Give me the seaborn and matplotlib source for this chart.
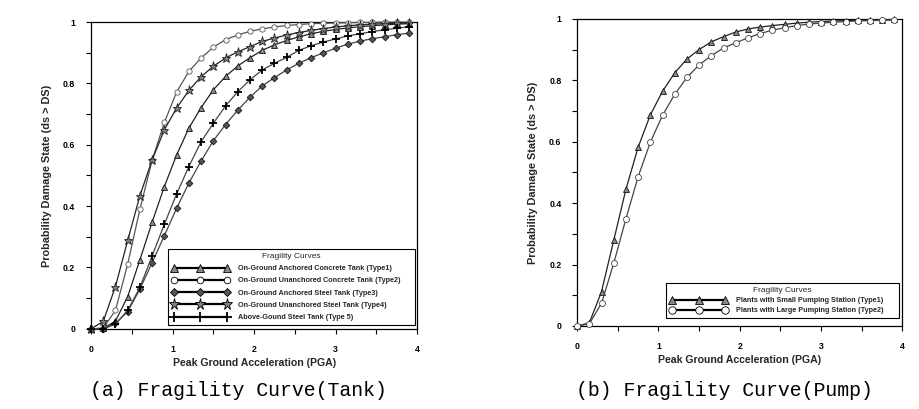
import matplotlib
matplotlib.use("Agg")
import matplotlib.pyplot as plt
import matplotlib.ticker as mticker
import seaborn as sns

# ---------------- data ----------------
pga = [0.0, 0.15, 0.3, 0.45, 0.6, 0.75, 0.9, 1.05, 1.2, 1.35, 1.5, 1.65, 1.8,
       1.95, 2.1, 2.25, 2.4, 2.55, 2.7, 2.85, 3.0, 3.15, 3.3, 3.45, 3.6, 3.75, 3.9]

tank1 = [0, 0.002, 0.025, 0.105, 0.225, 0.348, 0.464, 0.567, 0.654, 0.721, 0.779, 0.823, 0.857,
         0.884, 0.908, 0.926, 0.94, 0.952, 0.962, 0.97, 0.976, 0.981, 0.985, 0.988, 0.991, 0.993, 0.995]
tank2 = [0, 0.002, 0.06, 0.211, 0.39, 0.55, 0.673, 0.772, 0.839, 0.883, 0.918, 0.943, 0.958,
         0.97, 0.978, 0.984, 0.989, 0.992, 0.995, 0.996, 0.997, 0.998, 0.999, 0.999, 1.0, 1.0, 1.0]
tank3 = [0, 0.0, 0.018, 0.056, 0.13, 0.216, 0.304, 0.393, 0.475, 0.547, 0.613, 0.666, 0.713,
         0.755, 0.792, 0.819, 0.844, 0.866, 0.884, 0.9, 0.915, 0.928, 0.938, 0.946, 0.952, 0.959, 0.964]
tank4 = [0, 0.024, 0.138, 0.288, 0.434, 0.551, 0.649, 0.72, 0.777, 0.822, 0.856, 0.883, 0.903,
         0.92, 0.937, 0.948, 0.958, 0.966, 0.973, 0.979, 0.984, 0.988, 0.991, 0.993, 0.995, 0.996, 0.997]
tank5 = [0, 0.0, 0.015, 0.06, 0.135, 0.238, 0.341, 0.44, 0.529, 0.61, 0.67, 0.727, 0.773,
         0.812, 0.844, 0.866, 0.885, 0.908, 0.923, 0.935, 0.945, 0.955, 0.962, 0.969, 0.975, 0.98, 0.985]

pump1 = [0, 0.01, 0.112, 0.279, 0.445, 0.582, 0.687, 0.764, 0.824, 0.869, 0.9, 0.925, 0.942,
         0.957, 0.967, 0.973, 0.978, 0.982, 0.986, 0.989, 0.991, 0.993, 0.994, 0.995, 0.996, 0.997, 0.998]
pump2 = [0, 0.007, 0.074, 0.204, 0.349, 0.486, 0.598, 0.686, 0.754, 0.809, 0.85, 0.88, 0.905,
         0.922, 0.938, 0.952, 0.963, 0.971, 0.978, 0.983, 0.986, 0.989, 0.991, 0.993, 0.994, 0.995, 0.996]

tank_labels = ["On-Ground Anchored Concrete Tank (Type1)",
               "On-Ground Unanchored Concrete Tank (Type2)",
               "On-Ground Anchored Steel Tank (Type3)",
               "On-Ground Unanchored Steel Tank (Type4)",
               "Above-Gound Steel Tank (Type 5)"]
pump_labels = ["Plants with Small Pumping Station (Type1)",
               "Plants with Large Pumping Station (Type2)"]

legend_title = "Fragility Curves"
xlabel = "Peak Ground Acceleration (PGA)"
ylabel = "Probability Damage State (ds > DS)"
captions = ["(a) Fragility Curve(Tank)", "(b) Fragility Curve(Pump)"]

# ---------------- style ----------------
sns.set_style("ticks")
plt.rcParams["font.family"] = ["Liberation Sans", "DejaVu Sans"]
plt.rcParams["axes.linewidth"] = 0.9

fig = plt.figure(figsize=(9.19, 4.09), dpi=100)
axL = fig.add_axes([0.099, 0.196, 0.355, 0.75])
axR = fig.add_axes([0.628, 0.203, 0.354, 0.751])

tank_styles = [
    dict(marker="^", ms=4.2, mfc="#8a8a8a", mec="#111111", color="#222222"),
    dict(marker="o", ms=3.8, mfc="white", mec="#555555", color="#555555"),
    dict(marker="D", ms=3.4, mfc="#555555", mec="#111111", color="#444444"),
    dict(marker="*", ms=6.5, mfc="#808080", mec="#222222", color="#222222"),
    dict(marker="+", ms=6.0, mfc="black", mec="black", color="#444444"),
]
pump_styles = [
    dict(marker="^", ms=4.6, mfc="#8a8a8a", mec="#111111", color="#222222"),
    dict(marker="o", ms=4.3, mfc="white", mec="#444444", color="#444444"),
]

def draw(ax, series, labels, styles):
    for ys, lab, st in zip(series, labels, styles):
        mew = 1.3 if st["marker"] == "+" else 0.6
        sns.lineplot(x=pga, y=ys, ax=ax, label=lab, color=st["color"], lw=0.9,
                     marker=st["marker"], markersize=st["ms"],
                     markerfacecolor=st["mfc"], markeredgecolor=st["mec"],
                     markeredgewidth=mew, clip_on=False, zorder=3)

draw(axL, [tank1, tank2, tank3, tank4, tank5], tank_labels, tank_styles)
draw(axR, [pump1, pump2], pump_labels, pump_styles)

for ax in (axL, axR):
    ax.set_xlim(0, 4)
    ax.set_ylim(0, 1)
    ax.xaxis.set_major_locator(mticker.MultipleLocator(1))
    ax.xaxis.set_minor_locator(mticker.MultipleLocator(0.5))
    ax.yaxis.set_major_locator(mticker.MultipleLocator(0.2))
    ax.yaxis.set_minor_locator(mticker.MultipleLocator(0.1))
    fmt = mticker.FuncFormatter(lambda v, p: f"{v:g}")
    ax.xaxis.set_major_formatter(fmt)
    ax.yaxis.set_major_formatter(fmt)
    ax.tick_params(which="both", direction="out", length=3.8, width=0.8,
                   colors="black", labelsize=6.3, pad=7.5)
    for lbl in ax.get_xticklabels() + ax.get_yticklabels():
        lbl.set_fontweight("bold")
    for s in ax.spines.values():
        s.set_visible(True)
        s.set_color("black")
        s.set_linewidth(0.9)
    ax.set_xlabel(xlabel, fontsize=7.6, fontweight="bold")
    ax.set_ylabel(ylabel, fontsize=7.8, fontweight="bold")
    ax.xaxis.set_label_coords(0.5, -0.095)
    ax.yaxis.set_label_coords(-0.12, 0.5)

def make_legend(ax, bbox, styles, hl, ls):
    leg = ax.legend(title=legend_title, loc="lower left", bbox_to_anchor=bbox,
                    mode="expand", borderaxespad=0, numpoints=3,
                    prop={"size": 5.2, "weight": "bold"},
                    title_fontproperties={"size": 6.0},
                    frameon=True, fancybox=False, framealpha=1, edgecolor="black",
                    borderpad=0.5, labelspacing=ls, handlelength=hl,
                    handletextpad=1.2)
    leg.get_frame().set_linewidth(0.8)
    for line, st in zip(leg.get_lines(), styles):
        line.set_linewidth(1.6)
        line.set_color("black")
        line.set_markersize(st["ms"] * 1.25)
        line.set_markeredgecolor("black")
    return leg

make_legend(axL, (0.236, 0.013, 0.758, 0.25), tank_styles, 8.0, 0.72)
make_legend(axR, (0.274, 0.026, 0.714, 0.12), pump_styles, 8.0, 0.45)

fig.text(90 / 919, 1 - 391 / 409, captions[0], ha="left", va="center",
         family="Liberation Mono", fontsize=14.3, color="black")
fig.text(576 / 919, 1 - 391 / 409, captions[1], ha="left", va="center",
         family="Liberation Mono", fontsize=14.3, color="black")

fig.savefig("out.png", dpi=100, facecolor="white")
